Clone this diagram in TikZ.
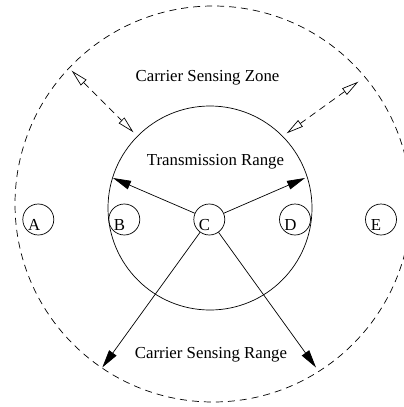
\documentclass[tikz,border=0pt]{standalone}
\usepackage{fontspec}
\setmainfont{Liberation Serif}
\usetikzlibrary{arrows.meta}
\tikzset{
  lw/.style={line width=0.7pt},
  dashpat/.style={dash pattern=on 7pt off 5pt},
  smallc/.style={draw, lw, circle, minimum size=31pt, inner sep=0pt},
  lbl/.style={anchor=base, inner sep=0pt, font=\fontsize{16.8}{20}\selectfont},
  solidarrow/.style={lw, -{Triangle[length=18pt,width=9pt]}},
  openarrow/.style={lw, dashpat, {Triangle[open,length=17pt,width=8pt,sep=0pt]}-{Triangle[open,length=17pt,width=8pt]}},
}
\begin{document}
\begin{tikzpicture}[x=1pt,y=-1pt]
\useasboundingbox (0,0) rectangle (404,407);
\clip (0,0) rectangle (404,407);
% circles
\node[draw, lw, dashpat, circle, minimum size=396pt, inner sep=0pt] (outer) at (213,204) {};
\node[draw, lw, circle, minimum size=204pt, inner sep=0pt] (inner) at (210,208) {};
% small nodes
\node[smallc] (A) at (38.3,219.5) {};
\node[smallc] (B) at (124.3,219.5) {};
\node[smallc] (C) at (209.3,219.5) {};
\node[smallc] (D) at (295,219.5) {};
\node[smallc] (E) at (381,219.5) {};
\node[lbl] (tA) at (34.3,230) {A};
\node[lbl] (tB) at (119.5,230) {B};
\node[lbl] (tC) at (204.5,230) {C};
\node[lbl] (tD) at (290.5,230) {D};
\node[lbl] (tE) at (376,230) {E};
% texts
\node[lbl] (zone) at (207.5,81) {Carrier Sensing Zone};
\node[lbl] (trange) at (215.5,165.5) {Transmission Range};
\node[lbl] (crange) at (211,358.3) {Carrier Sensing Range};
% arrow ends
\coordinate (ul) at (113,178);
\coordinate (ur) at (305,178);
\coordinate (ll) at (102.3,367.5);
\coordinate (lr) at (316,367.5);
\coordinate (zo1) at (71.7,70.7);
\coordinate (zi1) at (133.5,132.3);
\coordinate (zo2) at (358.3,81.7);
\coordinate (zi2) at (286.7,133.3);
% arrows
\draw[solidarrow] (C) -- (ul);
\draw[solidarrow] (C) -- (ur);
\draw[solidarrow] (C) -- (ll);
\draw[solidarrow] (C) -- (lr);
\draw[openarrow] (zo1) -- (zi1);
\draw[openarrow] (zo2) -- (zi2);
\end{tikzpicture}
\end{document}
